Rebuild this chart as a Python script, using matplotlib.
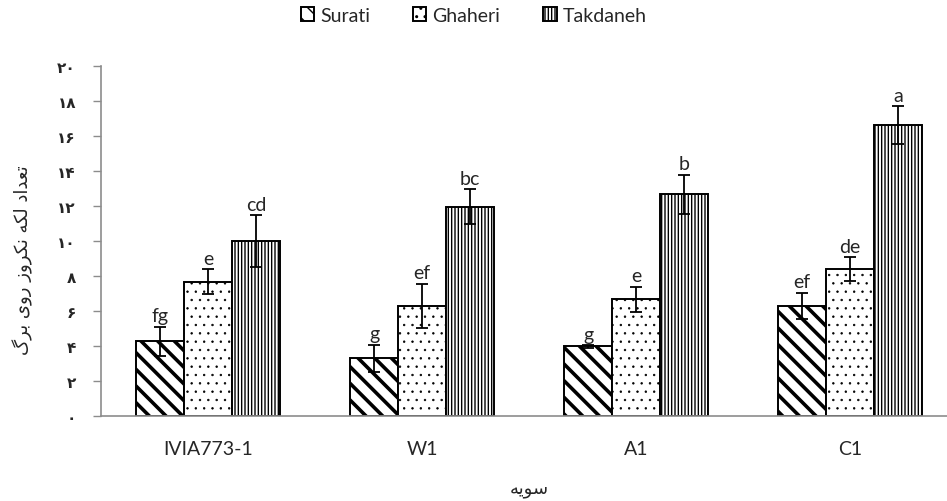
import numpy as np
import matplotlib
matplotlib.use("Agg")
import matplotlib.pyplot as plt

plt.rcParams['font.family'] = ['Lato', 'DejaVu Sans']

# Data
strains = ["IVIA773-1", "W1", "A1", "C1"]
cultivars = ["Surati", "Ghaheri", "Takdaneh"]
surati = [4.27, 3.30, 3.98, 6.30]
ghaheri = [7.67, 6.30, 6.67, 8.40]
takdaneh = [10.0, 11.96, 12.67, 16.63]
surati_err = [0.83, 0.78, 0.07, 0.73]
ghaheri_err = [0.72, 1.26, 0.70, 0.67]
takdaneh_err = [1.46, 0.99, 1.10, 1.07]
surati_grp = ["fg", "g", "g", "ef"]
ghaheri_grp = ["e", "ef", "e", "de"]
takdaneh_grp = ["cd", "bc", "b", "a"]
yticks = [0, 2, 4, 6, 8, 10, 12, 14, 16, 18, 20]

# persian digits for the y ticks
fa_digits = str.maketrans("0123456789", "\u06f0\u06f1\u06f2\u06f3\u06f4\u06f5\u06f6\u06f7\u06f8\u06f9")
ytick_labels = [str(t).translate(fa_digits) for t in yticks]

# Persian labels, pre-shaped (presentation forms, visual order)
ylabel_fa = ("\uFB92\uFEAE\uFE91" + " " +
             "\uFEEF\uFEED\uFEAD" + " " +
             "\uFEAF\uFEED\uFEAE\uFB91\uFEE7" + " " +
             "\uFEEA\uFB91\uFEDF" + " " +
             "\uFEA9\uFE8D\uFEAA\uFECC\uFE97")
xlabel_fa = "\uFEEA\uFEF3\uFEEE\uFEB3"

values = [surati, ghaheri, takdaneh]
errors = [surati_err, ghaheri_err, takdaneh_err]
groups = [surati_grp, ghaheri_grp, takdaneh_grp]
hatches = ["\\\\", "..", "|||||"]
hatch_lw = [2.6, 0.5, 1.0]

fig = plt.figure(figsize=(9.47, 5.02), dpi=100)
ax = fig.add_axes([0.1067, 0.1693, 0.9039, 0.6972])

x = np.arange(len(strains))
w = 0.224
txt = "#262626"
handles = []
for i, (vals, errs, grp) in enumerate(zip(values, errors, groups)):
    pos = x + (i - 1) * w
    with plt.rc_context({'hatch.linewidth': hatch_lw[i]}):
        bars = ax.bar(pos, vals, w, color="white", edgecolor="black",
                      linewidth=1.4, hatch=hatches[i], label=cultivars[i], zorder=2)
    for b in bars:
        if hasattr(b, "set_hatch_linewidth"):
            b.set_hatch_linewidth(hatch_lw[i])
    handles.append(bars)
    ax.errorbar(pos, vals, yerr=errs, fmt="none", ecolor="black",
                elinewidth=1.3, capsize=4, capthick=1.3, zorder=3)
    for p, v, e, g in zip(pos, vals, errs, grp):
        ax.text(p, v + e + 0.15, g, ha="center", va="bottom", fontsize=14, color=txt)

ax.set_xlim(-0.5, 3.5)
ax.set_ylim(0, 20)
ax.set_yticks(yticks)
ax.set_yticklabels(ytick_labels, fontsize=11, color=txt, family=['DejaVu Sans'],
                   fontweight="bold")
ax.set_xticks(x)
ax.set_xticklabels(strains, fontsize=14, color=txt)
ax.tick_params(axis="x", length=0, pad=17)
ax.tick_params(axis="y", length=6, width=1, color="#8c8c8c", pad=12)

for s in ["top", "right"]:
    ax.spines[s].set_visible(False)
for s in ["left", "bottom"]:
    ax.spines[s].set_color("#8c8c8c")
    ax.spines[s].set_linewidth(1.2)

fig.text(0.024, 0.482, ylabel_fa, rotation=90, ha="center", va="center",
         fontsize=13, color=txt, family=['DejaVu Sans'])
fig.text(0.559, 0.025, xlabel_fa, ha="center", va="center",
         fontsize=13, color=txt, family=['DejaVu Sans'])

leg = fig.legend(handles=handles, loc="center", bbox_to_anchor=(0.5, 0.968),
                 ncol=3, frameon=False, fontsize=14, handlelength=0.7,
                 handleheight=0.7, handletextpad=0.3, columnspacing=2.2)
for t in leg.get_texts():
    t.set_color(txt)

fig.savefig("out.png", dpi=100)
